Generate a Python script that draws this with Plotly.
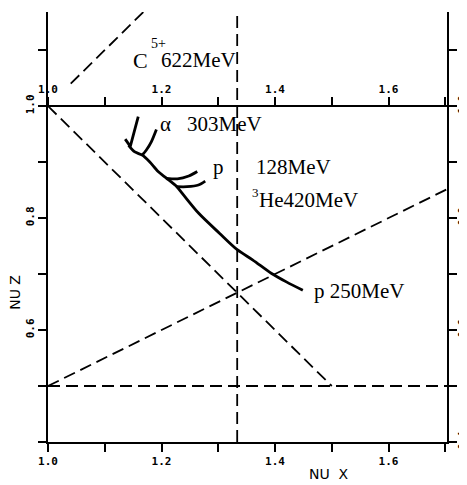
import plotly.graph_objects as go

# ---- data (tune diagram) ----
x_range = [1.0, 1.703]
y_range = [0.4, 1.168]

x_tick_vals = [1.0, 1.1, 1.2, 1.3, 1.4, 1.5, 1.6, 1.7]
x_tick_text = ["1.0", "", "1.2", "", "1.4", "", "1.6", ""]
y_tick_vals = [0.4, 0.5, 0.6, 0.7, 0.8, 0.9, 1.0, 1.1]
y_tick_text_left = ["", "", "0.6", "", "0.8", "", "1.0", ""]
y_tick_text_right = ["0.4", "", "0.6", "", "0.8", "", "1.0", ""]

# resonance lines (dashed)
res_diag_up_x = [1.04, 1.17]
res_diag_up_y = [1.04, 1.17]
res_sum_x = [1.0, 1.5]
res_sum_y = [1.0, 0.5]
res_third_x = [4 / 3, 4 / 3]
res_third_y = [0.4, 1.17]
res_diff_x = [1.0, 1.703]
res_diff_y = [0.5, 0.8515]
res_half_x = [1.0, 1.703]
res_half_y = [0.5, 0.5]

# working-point trajectories (solid)
main_x = [1.142, 1.153, 1.166, 1.179, 1.194, 1.209, 1.227, 1.239, 1.266, 1.302,
          1.334, 1.361, 1.394, 1.420, 1.449]
main_y = [0.930, 0.918, 0.9125, 0.9005, 0.883, 0.871, 0.856, 0.841, 0.808, 0.773,
          0.743, 0.725, 0.701, 0.686, 0.671]
hook_c_x = [1.159, 1.152, 1.145, 1.136]
hook_c_y = [0.981, 0.952, 0.928, 0.941]
hook_a_x = [1.191, 1.182, 1.173, 1.166]
hook_a_y = [0.958, 0.936, 0.921, 0.9125]
arc_p_x = [1.209, 1.228, 1.248, 1.263]
arc_p_y = [0.871, 0.870, 0.875, 0.883]
arc_he_x = [1.227, 1.245, 1.265, 1.277]
arc_he_y = [0.856, 0.856, 0.859, 0.866]

# labels: (text, x, y, size)
labels = [
    ("C", 1.146, 1.082, 22),
    ("5+", 1.178, 1.111, 14),
    ("622MeV", 1.196, 1.082, 21),
    ("α", 1.194, 0.968, 21),
    ("303MeV", 1.242, 0.968, 21),
    ("p", 1.287, 0.891, 21),
    ("128MeV", 1.363, 0.891, 21),
    ("3", 1.356, 0.845, 13),
    ("He420MeV", 1.369, 0.832, 21),
    ("p 250MeV", 1.465, 0.670, 21),
]

fig = go.Figure()

dash_style = dict(color="black", width=1.8, dash="12px,6px")
for xs, ys in [(res_diag_up_x, res_diag_up_y), (res_sum_x, res_sum_y),
               (res_third_x, res_third_y), (res_diff_x, res_diff_y),
               (res_half_x, res_half_y)]:
    fig.add_trace(go.Scatter(x=xs, y=ys, mode="lines", line=dash_style,
                             hoverinfo="skip"))

for xs, ys in [(main_x, main_y), (hook_a_x, hook_a_y),
               (arc_p_x, arc_p_y), (arc_he_x, arc_he_y)]:
    fig.add_trace(go.Scatter(x=xs, y=ys, mode="lines",
                             line=dict(color="black", width=2.8, shape="spline", smoothing=0.8),
                             hoverinfo="skip"))
fig.add_trace(go.Scatter(x=hook_c_x, y=hook_c_y, mode="lines",
                         line=dict(color="black", width=2.8), hoverinfo="skip"))

# invisible traces to activate secondary axes
fig.add_trace(go.Scatter(x=[1.0], y=[1.0], xaxis="x2", yaxis="y", mode="markers",
                         marker=dict(opacity=0), hoverinfo="skip"))
fig.add_trace(go.Scatter(x=[1.0], y=[1.0], xaxis="x", yaxis="y2", mode="markers",
                         marker=dict(opacity=0), hoverinfo="skip"))

for text, lx, ly, size in labels:
    fig.add_annotation(x=lx, y=ly, xref="x", yref="y", text=text, showarrow=False,
                       xanchor="left", yanchor="middle",
                       font=dict(family="Liberation Serif", size=size, color="black"))

tick_font = dict(family="DejaVu Sans Mono", size=11, color="black", weight="bold")
common = dict(showgrid=False, zeroline=False, showline=True, linecolor="black",
              linewidth=2, ticks="outside", ticklen=8, tickwidth=1.5,
              tickcolor="black", automargin=False)

top_pos = (1.0 - y_range[0]) / (y_range[1] - y_range[0])

# page body has an 8px default margin, so the figure is sized to fit the window
fig.update_layout(
    width=459, height=477,
    margin=dict(l=40, r=20, t=4, b=43),
    paper_bgcolor="white", plot_bgcolor="white",
    showlegend=False,
    xaxis=dict(range=x_range, tickvals=x_tick_vals, ticktext=x_tick_text,
               tickangle=0, tickfont=tick_font, **common),
    xaxis2=dict(range=x_range, overlaying="x", side="top", anchor="free",
                position=top_pos, tickvals=x_tick_vals, ticktext=x_tick_text,
                tickangle=0, tickfont=tick_font, **common),
    yaxis=dict(range=y_range, tickvals=y_tick_vals, ticktext=y_tick_text_left,
               tickangle=-90, tickfont=tick_font, **common),
    yaxis2=dict(range=y_range, overlaying="y", side="right", anchor="x",
                tickvals=y_tick_vals, ticktext=y_tick_text_right,
                tickangle=-90, ticklabelstandoff=-3,
                tickfont=dict(family="DejaVu Sans Mono", size=10, color="black", weight="bold"),
                **common),
)

# axis titles
fig.add_annotation(x=0.705, y=-0.074, xref="paper", yref="paper",
                   text="NU\u00a0\u00a0X", showarrow=False,
                   font=dict(family="DejaVu Sans", size=14, color="black"),
                   xanchor="center", yanchor="middle")
fig.add_annotation(x=-0.083, y=0.349, xref="paper", yref="paper",
                   text="NU\u00a0Z", showarrow=False, textangle=-90,
                   font=dict(family="DejaVu Sans", size=14, color="black"),
                   xanchor="center", yanchor="middle")

fig.write_html("out.html")
